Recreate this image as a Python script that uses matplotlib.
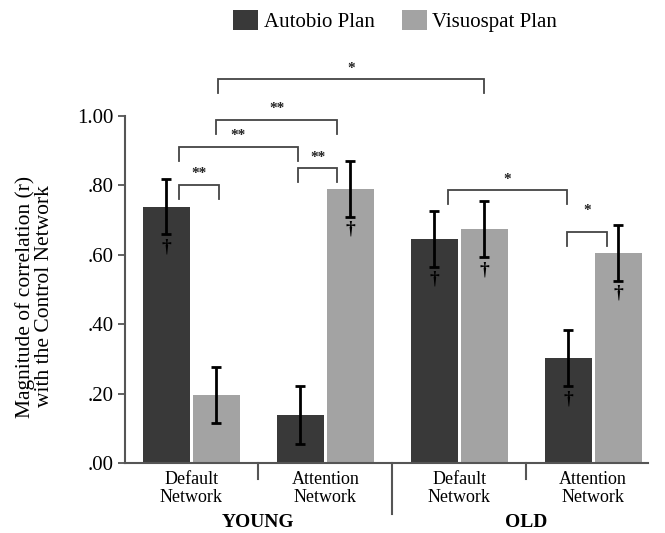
import matplotlib
matplotlib.use('Agg')
import matplotlib.pyplot as plt
import matplotlib.transforms as mtransforms
import numpy as np
from matplotlib.patches import Patch

plt.rcParams['font.family'] = ['Liberation Serif', 'DejaVu Serif']

# data
conditions = ['Default\nNetwork', 'Attention\nNetwork', 'Default\nNetwork', 'Attention\nNetwork']
age_groups = ['YOUNG', 'OLD']
autobio = [0.739, 0.138, 0.646, 0.302]
autobio_err = [0.080, 0.084, 0.080, 0.080]
visuospat = [0.196, 0.790, 0.674, 0.605]
visuospat_err = [0.080, 0.080, 0.080, 0.080]
autobio_dagger = [True, False, True, True]
visuospat_dagger = [False, True, True, True]
yticks = [0.0, 0.2, 0.4, 0.6, 0.8, 1.0]
ytick_labels = ['.00', '.20', '.40', '.60', '.80', '1.00']

# significance brackets: bar a, bar b, line height, label height, label
# bars are numbered left to right 0..7
brackets = [
    (1, 5, 1.107, 1.138, '*'),
    (1, 3, 0.988, 1.022, '**'),
    (0, 2, 0.911, 0.944, '**'),
    (2, 3, 0.850, 0.879, '**'),
    (0, 1, 0.801, 0.835, '**'),
    (4, 6, 0.787, 0.818, '*'),
    (6, 7, 0.666, 0.728, '*'),
]
# small sideways shifts of bracket ends so they clear the error bars
bracket_nudge = [
    (0.01, 0.0),
    (0.0, -0.097),
    (0.09, -0.02),
    (-0.02, -0.097),
    (0.09, 0.02),
    (0.104, -0.01),
    (-0.01, -0.082),
]

DARK = '#393939'
LIGHT = '#a3a3a3'
AXIS = '#555555'

fig = plt.figure(figsize=(6.65, 5.33), dpi=100)
ax = fig.add_axes([0.188, 0.1313, 0.786, 0.6511])

x = np.arange(len(conditions))
off = 0.1866
width = 0.35

ax.bar(x - off, autobio, width, color=DARK, edgecolor='none', zorder=2)
ax.bar(x + off, visuospat, width, color=LIGHT, edgecolor='none', zorder=2)
err_kw = dict(fmt='none', ecolor='black', elinewidth=2, capsize=3.5, capthick=2, zorder=3)
ax.errorbar(x - off, autobio, yerr=autobio_err, **err_kw)
ax.errorbar(x + off, visuospat, yerr=visuospat_err, **err_kw)

# daggers under the error bars
for xs, vals, errs, flags in [(x - off, autobio, autobio_err, autobio_dagger),
                              (x + off, visuospat, visuospat_err, visuospat_dagger)]:
    for xi, v, e, f in zip(xs, vals, errs, flags):
        if f:
            ax.text(xi, v - e - 0.012, '\u2020', ha='center', va='top',
                    fontsize=14, fontweight='bold', color='black', zorder=4)

# bar centers in left-to-right order
centers = []
for xi in x:
    centers += [xi - off, xi + off]

drop = 0.04
for (a, b, yl, yt, lab), (na, nb) in zip(brackets, bracket_nudge):
    xa = centers[a] + na
    xb = centers[b] + nb
    ax.plot([xa, xa, xb, xb], [yl - drop, yl, yl, yl - drop], color='#444444',
            lw=1.3, clip_on=False, solid_joinstyle='miter', zorder=3)
    ax.text((xa + xb) / 2, yt, lab, ha='center', va='center', fontsize=11,
            fontweight='bold', color='#222222', clip_on=False)

ax.set_xlim(-0.496, 3.407)
ax.set_ylim(0, 1.0)
ax.set_yticks(yticks)
ax.set_yticklabels(ytick_labels, fontsize=15)
ax.set_xticks(x)
ax.set_xticklabels(conditions, fontsize=13, linespacing=1.05)
ax.tick_params(axis='x', length=0, pad=6)
ax.tick_params(axis='y', direction='out', length=5, width=1.3, color=AXIS, pad=3)

for s in ['top', 'right']:
    ax.spines[s].set_visible(False)
for s in ['left', 'bottom']:
    ax.spines[s].set_color(AXIS)
    ax.spines[s].set_linewidth(1.5)

# separators below the x axis
trans = mtransforms.blended_transform_factory(ax.transData, ax.transAxes)
for xs, depth in [(0.5, 0.046), (1.5, 0.147), (2.5, 0.046)]:
    ax.plot([xs, xs], [0, -depth], color=AXIS, lw=1.5, transform=trans, clip_on=False)

for xs, name in zip([0.5, 2.5], age_groups):
    ax.text(xs, -0.172, name, transform=trans, ha='center', va='center',
            fontsize=14, fontweight='bold')

ax.set_ylabel('Magnitude of correlation (r)\nwith the Control Network',
              fontsize=15.5, linespacing=1.0)
ax.yaxis.set_label_coords(-0.135, 0.48)

handles = [Patch(facecolor=DARK, edgecolor='none'), Patch(facecolor=LIGHT, edgecolor='none')]
fig.legend(handles, ['Autobio Plan', 'Visuospat Plan'], loc='center',
           bbox_to_anchor=(0.594, 0.961), ncol=2, frameon=False, fontsize=15,
           handlelength=1.2, handleheight=1.1, handletextpad=0.25, columnspacing=1.3)

fig.savefig('out.png', dpi=100)
